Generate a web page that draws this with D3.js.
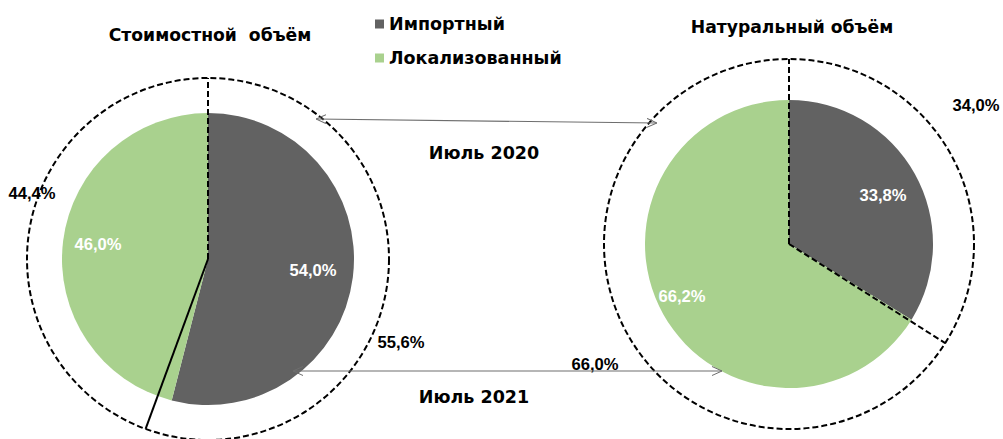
<!DOCTYPE html>
<html><head><meta charset="utf-8">
<script src="https://cdn.jsdelivr.net/npm/d3@7"></script>
<style>
body{margin:0;background:#fff;}
svg{display:block;}
.t{font-family:"DejaVu Sans",Verdana,sans-serif;font-weight:bold;fill:#000;white-space:pre;}
.p{font-family:"Liberation Sans",Arial,sans-serif;font-weight:bold;}
</style></head><body>
<script>
// ---- data ----
const categories = ["Импортный", "Локализованный"];
const charts = ["Стоимостной  объём", "Натуральный объём"];
const periods = ["Июль 2020", "Июль 2021"];
const value2021 = [54.0, 46.0];   // inner pie (Июль 2021), стоимостной
const value2020 = [55.6, 44.4];   // outer ring (Июль 2020), стоимостной
const volume2021 = [33.8, 66.2];  // inner pie, натуральный
const volume2020 = [34.0, 66.0];  // outer ring, натуральный

// ---- layout ----
const W = 1003, H = 439;
const colors = d3.scaleOrdinal().domain(categories).range(["#626262", "#a9d18e"]);
const fmt = v => d3.format(".1f")(v).replace(".", ",") + "%";
const layout = [
  {cx: 208, cy: 259, rIn: 146, rOut: 181, title: [210, 35],
   innerOff: [[105, 11], [-110, -15]], outerOff: [[193, 83], [-176, -66]],
   lineStyles: ["dash", "solid"]},
  {cx: 789, cy: 244, rIn: 144, rOut: 185, title: [792, 27],
   innerOff: [[94, -49], [-107, 52]], outerOff: [[187, -139], [-194, 120]],
   lineStyles: ["dash", "dash"]}
];

const svg = d3.select("body").append("svg").attr("width", W).attr("height", H);
const defs = svg.append("defs");
["start", "end"].forEach(k => {
  defs.append("marker").attr("id", "m-" + k)
    .attr("viewBox", "0 0 10 10").attr("refX", k === "end" ? 10 : 0).attr("refY", 5)
    .attr("markerWidth", 10).attr("markerHeight", 10).attr("markerUnits", "userSpaceOnUse")
    .attr("orient", "auto")
    .append("path")
    .attr("d", k === "end" ? "M0,0.5 L10,5 L0,9.5" : "M10,0.5 L0,5 L10,9.5")
    .attr("fill", "none").attr("stroke", "#6e6e6e").attr("stroke-width", 1);
});

const pie = d3.pie().sort(null).value(d => d);
const datasets = [[value2021, value2020], [volume2021, volume2020]];

datasets.forEach(([inner, outer], i) => {
  const L = layout[i];
  const g = svg.append("g").attr("transform", `translate(${L.cx},${L.cy})`);
  const arcIn = d3.arc().innerRadius(0).outerRadius(L.rIn);
  const inArcs = pie(inner);
  g.selectAll("path.slice").data(inArcs).join("path").attr("class", "slice")
    .attr("d", arcIn).attr("fill", (d, j) => colors(categories[j]));
  // outer ring (previous period) as dashed circle
  g.append("circle").attr("r", L.rOut).attr("fill", "none")
    .attr("stroke", "#000").attr("stroke-width", 2).attr("stroke-dasharray", "6,3");
  const outArcs = pie(outer);
  outArcs.forEach((a, j) => {
    const ang = a.startAngle;
    g.append("line").attr("x1", 0).attr("y1", 0)
      .attr("x2", Math.sin(ang) * L.rOut).attr("y2", -Math.cos(ang) * L.rOut)
      .attr("stroke", "#000").attr("stroke-width", 2)
      .attr("stroke-dasharray", L.lineStyles[j] === "dash" ? "6,3" : null);
  });
  inArcs.forEach((a, j) => {
    g.append("text").attr("class", "p").attr("x", L.innerOff[j][0]).attr("y", L.innerOff[j][1])
      .attr("text-anchor", "middle").attr("dominant-baseline", "central")
      .attr("font-size", 16.6).attr("fill", "#fff").text(fmt(a.data));
  });
  outArcs.forEach((a, j) => {
    g.append("text").attr("class", "p").attr("x", L.outerOff[j][0]).attr("y", L.outerOff[j][1])
      .attr("text-anchor", "middle").attr("dominant-baseline", "central")
      .attr("font-size", 16.6).attr("fill", "#000").text(fmt(a.data));
  });
  svg.append("text").attr("class", "t").attr("x", L.title[0]).attr("y", L.title[1])
    .attr("text-anchor", "middle").attr("dominant-baseline", "central")
    .attr("font-size", 17.2).text(charts[i]);
});

// legend
const leg = svg.append("g");
categories.forEach((c, j) => {
  const y = [24, 58][j];
  leg.append("rect").attr("x", 375).attr("y", y - 4.5).attr("width", 9).attr("height", 9).attr("fill", colors(c));
  leg.append("text").attr("class", "t").attr("x", 389).attr("y", y)
    .attr("dominant-baseline", "central").attr("font-size", 17.5).text(c);
});

// period arrows
const arrows = [
  {x1: 316, y1: 119, x2: 657, y2: 123, lx: 484, ly: 153},
  {x1: 293, y1: 371, x2: 722, y2: 371, lx: 474, ly: 397}
];
arrows.forEach((a, j) => {
  svg.append("line").attr("x1", a.x1).attr("y1", a.y1).attr("x2", a.x2).attr("y2", a.y2)
    .attr("stroke", "#6e6e6e").attr("stroke-width", 1.2)
    .attr("marker-start", "url(#m-start)").attr("marker-end", "url(#m-end)");
  svg.append("text").attr("class", "t").attr("x", a.lx).attr("y", a.ly)
    .attr("text-anchor", "middle").attr("dominant-baseline", "central")
    .attr("font-size", 17.5).text(periods[j]);
});
</script>
</body></html>
